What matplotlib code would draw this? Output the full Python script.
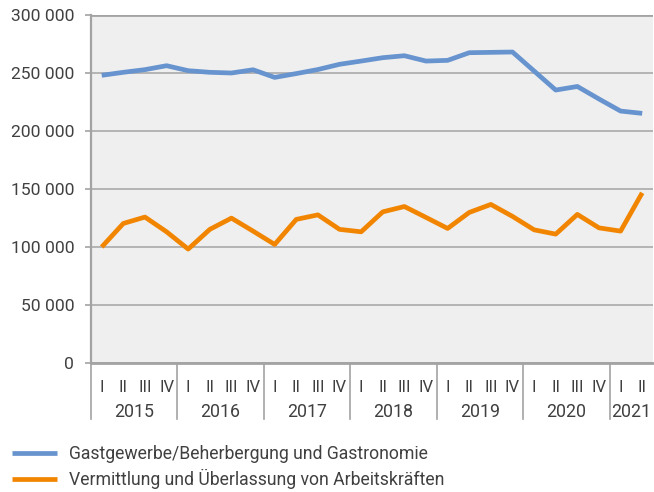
"""
Quarterly employment lines: hospitality vs. temporary agency work, 2015-2021.
Saves out.png (654x492).
"""
import matplotlib
matplotlib.use("Agg")
import matplotlib.pyplot as plt
import matplotlib.transforms as mtransforms
from matplotlib.ticker import FuncFormatter, MultipleLocator
import numpy as np

plt.rcParams["font.family"] = ["Roboto", "DejaVu Sans"]

# ---------------------------------------------------------------------------
# Data
# ---------------------------------------------------------------------------
years = ["2015", "2016", "2017", "2018", "2019", "2020", "2021"]
quarters = ["I", "II", "III", "IV"] * 6 + ["I", "II"]

gastgewerbe = [
    248000, 250600, 252900, 256300,
    252000, 250600, 250000, 252800,
    246200, 249500, 253000, 257500,
    260300, 263200, 264900, 260300,
    260900, 267500, 267800, 268100,
    251700, 235300, 238400, 227600,
    217200, 215200,
]
vermittlung = [
    100000, 120300, 125800, 113100,
    98200, 115200, 124900, 113700,
    102200, 123800, 127700, 115200,
    113100, 130300, 134900, 125500,
    116000, 129800, 136700, 126400,
    114800, 111100, 128100, 116500,
    113700, 146700,
]

series_labels = [
    "Gastgewerbe/Beherbergung und Gastronomie",
    "Vermittlung und Überlassung von Arbeitskräften",
]

_BLUE = "#6794cf"
_ORANGE = "#f28500"
_TEXT = "#404040"
_AXIS = "#a3a3a3"

# ---------------------------------------------------------------------------
# Figure
# ---------------------------------------------------------------------------
fig = plt.figure(figsize=(6.54, 4.92), dpi=100)
ax = fig.add_axes([0.139, 0.2622, 0.8595, 0.7073])
ax.set_facecolor("#efefef")

x = np.arange(len(quarters))
ax.plot(x, gastgewerbe, color=_BLUE, linewidth=3.4, solid_capstyle="butt",
        label=series_labels[0], zorder=3)
ax.plot(x, vermittlung, color=_ORANGE, linewidth=3.4, solid_capstyle="butt",
        label=series_labels[1], zorder=3)

ax.set_xlim(-0.5, len(quarters) - 0.5)
ax.set_ylim(0, 300000)

# y axis
ax.yaxis.set_major_locator(MultipleLocator(50000))
ax.yaxis.set_major_formatter(
    FuncFormatter(lambda v, _: f"{int(v):,}".replace(",", " "))
)
ax.grid(axis="y", color="#b4b4b4", linewidth=1.4, zorder=1)
ax.tick_params(axis="y", length=4, width=1.2, color=_AXIS, labelsize=12.6,
               labelcolor=_TEXT, pad=8)

# x axis: quarter labels
ax.set_xticks(x)
ax.set_xticklabels(quarters)
ax.tick_params(axis="x", length=0, labelsize=12, labelcolor=_TEXT, pad=12)

for side in ("top", "right"):
    ax.spines[side].set_visible(False)
ax.spines["left"].set_color(_AXIS)
ax.spines["left"].set_linewidth(1.6)
ax.spines["bottom"].set_color(_AXIS)
ax.spines["bottom"].set_linewidth(2.0)
ax.axhline(300000, color=_AXIS, linewidth=2.0, zorder=2)

# year groups below the quarter labels
trans = mtransforms.blended_transform_factory(ax.transData, ax.transAxes)
sep_bottom = -0.16
for i, year in enumerate(years):
    start = i * 4
    stop = min(start + 4, len(quarters))
    ax.text((start + stop - 1) / 2, -0.14, year, transform=trans,
            ha="center", va="center", fontsize=12.8, color=_TEXT)
    ax.plot([start - 0.5, start - 0.5], [0, sep_bottom], transform=trans,
            color=_AXIS, linewidth=1.2, clip_on=False)

# legend
fig.legend(loc="upper left", bbox_to_anchor=(-0.006, 0.128), frameon=False,
           fontsize=12.7, handlelength=2.55, handletextpad=0.68,
           labelspacing=0.35, labelcolor=_TEXT)

fig.savefig("out.png", dpi=100)
plt.close(fig)
